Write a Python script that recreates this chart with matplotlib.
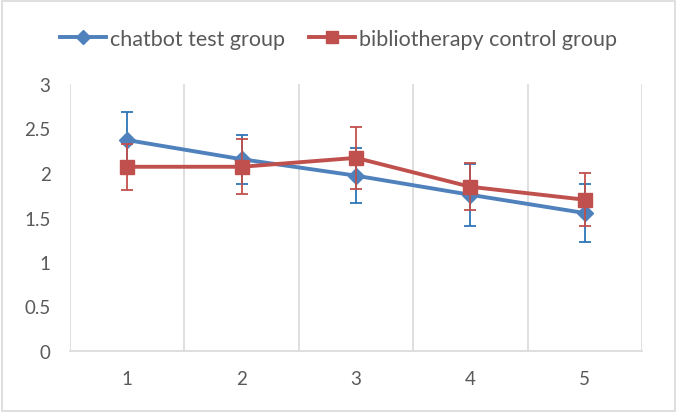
import numpy as np
import matplotlib
matplotlib.use("Agg")
import matplotlib.pyplot as plt
from matplotlib.patches import Rectangle
from matplotlib.lines import Line2D

# data
weeks = [1, 2, 3, 4, 5]
chatbot_mean = [2.37, 2.155, 1.97, 1.755, 1.55]
chatbot_err = [0.32, 0.275, 0.31, 0.345, 0.33]
biblio_mean = [2.07, 2.07, 2.17, 1.845, 1.70]
biblio_err = [0.26, 0.31, 0.345, 0.265, 0.30]

blue = "#4F81BD"
blue_err = "#2E75B6"
red = "#C0504D"
grey_txt = "#595959"

plt.rcParams['font.family'] = ['Lato', 'DejaVu Sans']

fig = plt.figure(figsize=(6.77, 4.14), dpi=100)
ax = fig.add_axes([70/677, 1-352/414, (642-70)/677, (352-85)/414])

# chart border
fig.patches.append(Rectangle((0.003, 0.004), 0.994, 0.992, transform=fig.transFigure,
                             fill=False, edgecolor="#D9D9D9", linewidth=1.2))

ax.errorbar(weeks, chatbot_mean, yerr=chatbot_err, color=blue, ecolor=blue_err,
            elinewidth=1.3, capsize=4.5, capthick=1.3, linewidth=2.8,
            marker="D", markersize=8, zorder=3)
ax.errorbar(weeks, biblio_mean, yerr=biblio_err, color=red, ecolor=red,
            elinewidth=1.3, capsize=4.5, capthick=1.3, linewidth=2.8,
            marker="s", markersize=9.5, zorder=4)

ax.set_xlim(0.5, 5.5)
ax.set_ylim(0, 3)
ax.set_yticks(np.arange(0, 3.01, 0.5))
ax.set_yticklabels(["0", "0.5", "1", "1.5", "2", "2.5", "3"])
ax.set_xticks(weeks)
ax.set_xticks(np.arange(0.5, 5.6, 1), minor=True)
ax.grid(axis="x", which="minor", color="#D9D9D9", linewidth=1.2)
ax.tick_params(axis="both", which="both", length=0, labelsize=13.5, colors=grey_txt)
ax.tick_params(axis="x", pad=14)
ax.tick_params(axis="y", pad=14)
for side in ["top", "right", "left"]:
    ax.spines[side].set_visible(False)
ax.spines["bottom"].set_color("#D9D9D9")
ax.spines["bottom"].set_linewidth(1.2)

handles = [Line2D([], [], color=blue, linewidth=2.8, marker="D", markersize=7),
           Line2D([], [], color=red, linewidth=2.8, marker="s", markersize=9)]
labels = ["chatbot test group", "bibliotherapy control group"]
leg = fig.legend(handles, labels, loc="center", bbox_to_anchor=(0.5, 1-40/414), ncol=2,
                 frameon=False, fontsize=15.5, handlelength=2.15, columnspacing=1.1,
                 handletextpad=0.2)
for t in leg.get_texts():
    t.set_color(grey_txt)

fig.savefig("out.png", dpi=100)
